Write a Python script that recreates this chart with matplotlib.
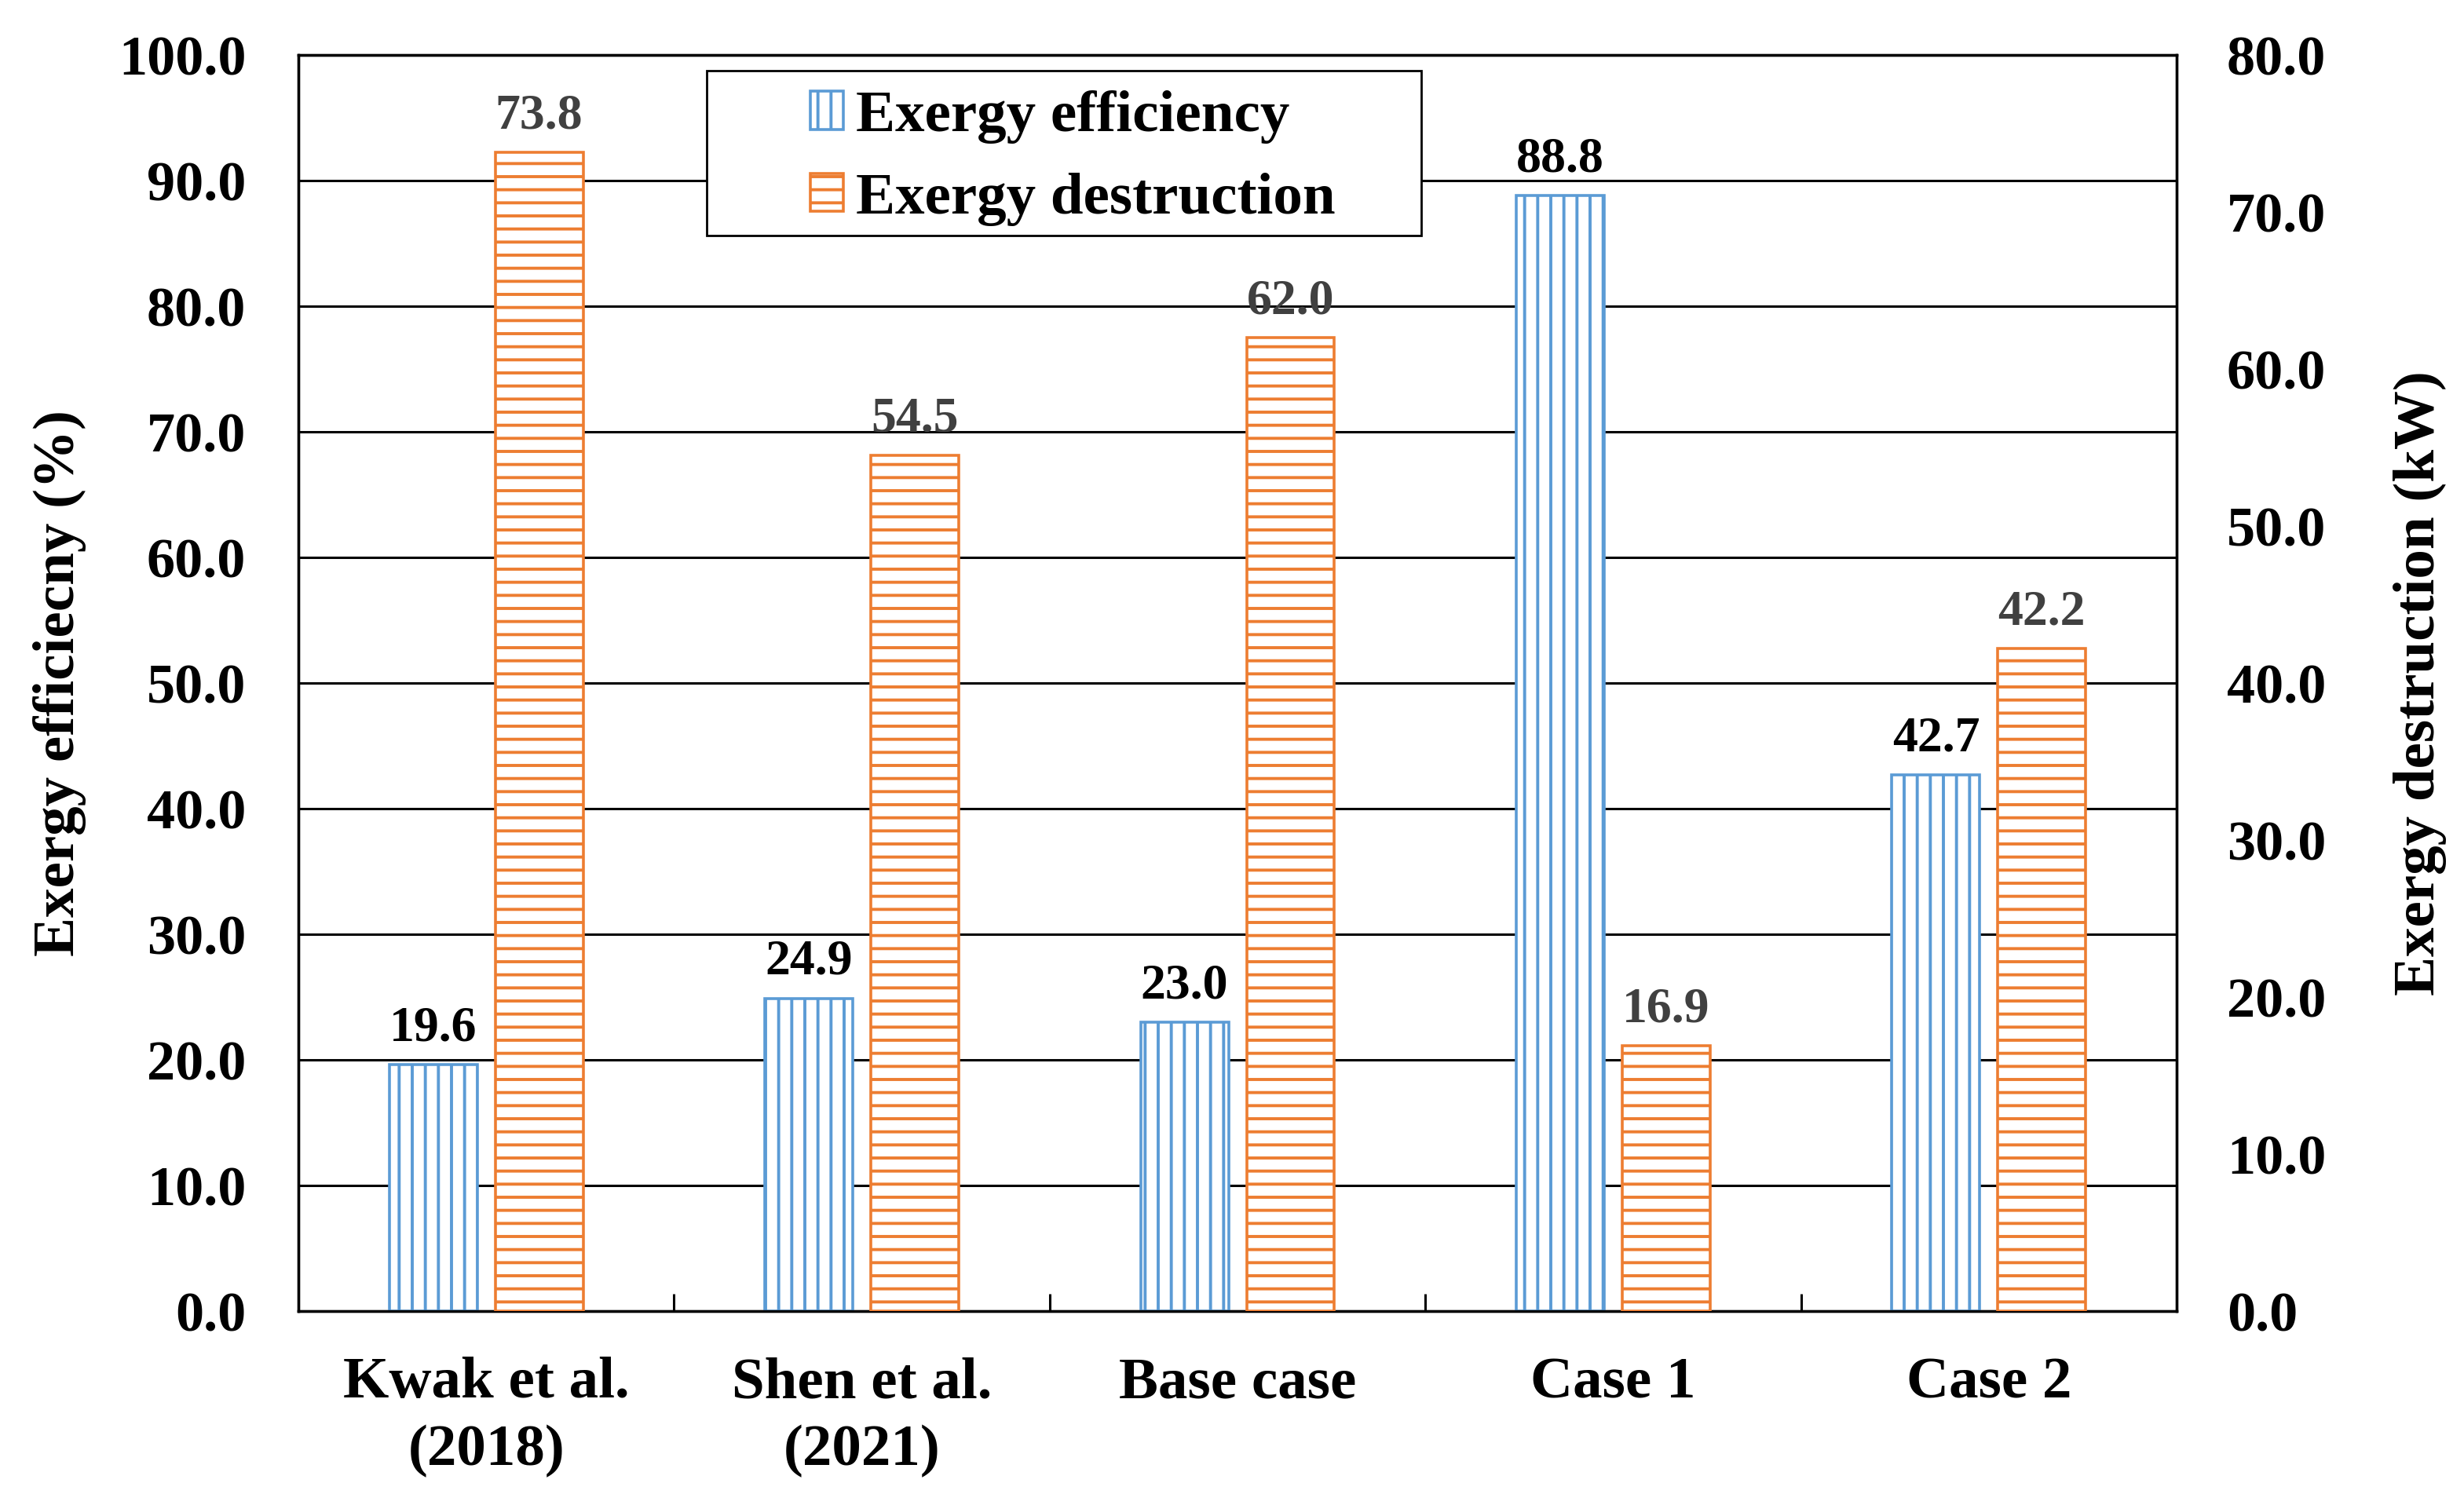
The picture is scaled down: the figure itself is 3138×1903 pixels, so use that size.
import matplotlib
matplotlib.use("Agg")
import matplotlib.pyplot as plt
from matplotlib.patches import Rectangle
import numpy as np

categories = ["Kwak et al.\n(2018)", "Shen et al.\n(2021)", "Base case", "Case 1", "Case 2"]
efficiency = [19.6, 24.9, 23.0, 88.8, 42.7]       # %
destruction = [73.8, 54.5, 62.0, 16.9, 42.2]      # kW
left_ticks = [0, 10, 20, 30, 40, 50, 60, 70, 80, 90, 100]
right_ticks = [0, 10, 20, 30, 40, 50, 60, 70, 80]

plt.rcParams['font.family'] = ['Liberation Serif', 'DejaVu Serif']
plt.rcParams['font.weight'] = 'bold'
plt.rcParams['axes.labelweight'] = 'bold'
plt.rcParams['hatch.linewidth'] = 1.4

blue = "#5B9BD5"
orange = "#ED7D31"

fig = plt.figure(figsize=(15.69, 9.515), dpi=200)
ax = fig.add_axes([0.1211, 0.1224, 0.8834 - 0.1211, 0.9632 - 0.1224])
ax2 = ax.twinx()

x = np.arange(len(categories))
w = 0.234
off = 0.141

b1 = ax.bar(x - off, efficiency, width=w, facecolor="white", edgecolor=blue,
            hatch="||", linewidth=1.3, zorder=3, label="Exergy efficiency")
b2 = ax2.bar(x + off, destruction, width=w, facecolor="white", edgecolor=orange,
             hatch="--", linewidth=1.3, zorder=3, label="Exergy destruction")

for xi, v in zip(x, efficiency):
    ax.annotate(f"{v:.1f}", (xi - off, v), xytext=(0, 6), textcoords="offset points",
                ha="center", va="bottom", fontsize=23, color="black", fontweight="bold")
for xi, v in zip(x, destruction):
    ax2.annotate(f"{v:.1f}", (xi + off, v), xytext=(0, 6), textcoords="offset points",
                 ha="center", va="bottom", fontsize=23, color="#404040", fontweight="bold")

ax.set_xlim(-0.5, len(categories) - 0.5)
ax.set_ylim(0, 100)
ax2.set_ylim(0, 80)
ax.set_yticks(left_ticks)
ax.set_yticklabels([f"{t:.1f}" for t in left_ticks])
ax2.set_yticks(right_ticks)
ax2.set_yticklabels([f"{t:.1f}" for t in right_ticks])

ax.set_xticks(x)
ax.set_xticklabels(categories, fontsize=27, linespacing=1.35)
ax.set_xticks(np.arange(0.5, len(categories) - 0.5, 1.0), minor=True)
ax.tick_params(axis="x", which="major", length=0, pad=21)
ax.tick_params(axis="x", which="minor", direction="in", length=8, width=1.1, color="black")
ax.tick_params(axis="y", which="both", length=0, pad=24, labelsize=26)
ax2.tick_params(axis="y", which="both", length=0, pad=23, labelsize=26)

ax.yaxis.grid(True, color="black", linewidth=1.1)
ax.set_axisbelow(True)

for a in (ax, ax2):
    for s in a.spines.values():
        s.set_linewidth(1.2)
        s.set_color("black")

ax.set_ylabel("Exergy efficiecny (%)", fontsize=27, fontweight="bold", va="center")
ax.yaxis.set_label_coords(-0.127, 0.5)
ax2.set_ylabel("Exergy destruction (kW)", fontsize=27, fontweight="bold", va="center", rotation=90)
ax2.yaxis.set_label_coords(1.1295, 0.5)

# legend frame
frame = Rectangle((0.2174, 0.856), 0.3804, 0.1315, transform=ax2.transAxes,
                  facecolor="white", edgecolor="black", linewidth=1.0, zorder=6, clip_on=False)
ax2.add_patch(frame)
leg = ax2.legend([b1, b2], ["Exergy efficiency", "Exergy destruction"],
                 loc="upper left", bbox_to_anchor=(0.2726, 0.972),
                 bbox_transform=ax2.transAxes, frameon=False, borderpad=0,
                 borderaxespad=0, handlelength=0.56, handleheight=0.62,
                 handletextpad=0.21, labelspacing=0.49, fontsize=27)
leg.set_zorder(7)

fig.savefig("out.png", dpi=200)
